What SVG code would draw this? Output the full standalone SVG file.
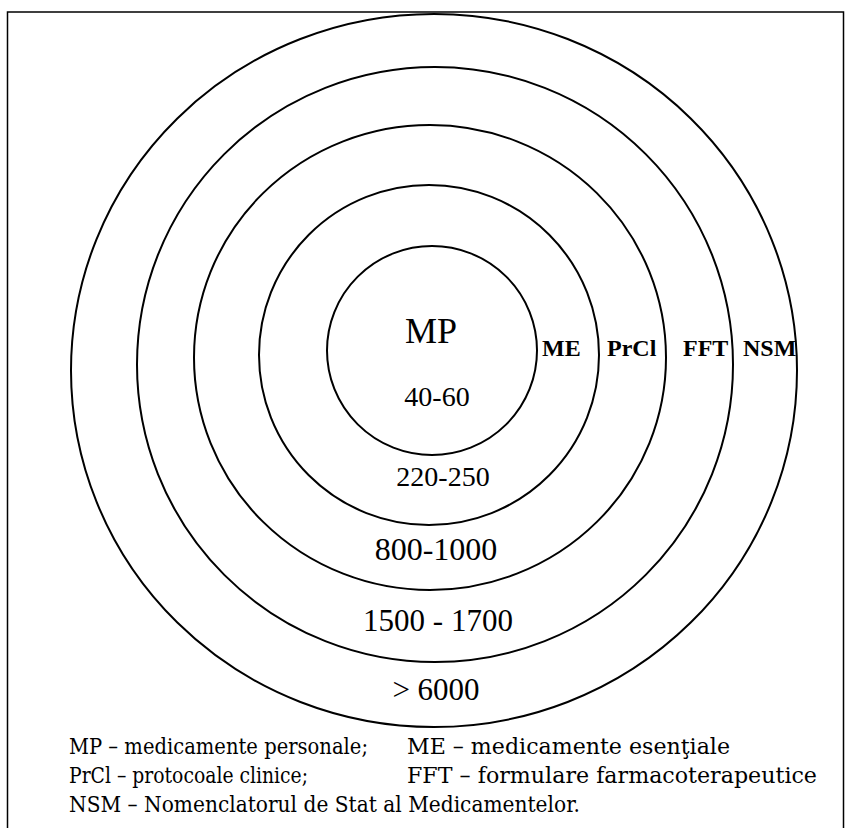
<svg xmlns="http://www.w3.org/2000/svg" width="853" height="828" viewBox="0 0 853 828">
<style>
.ring{fill:none;stroke:#000;stroke-width:2}
.num{font-family:"Liberation Serif","Times New Roman",serif;fill:#000;text-anchor:middle}
.lab{font-family:"Liberation Serif","Times New Roman",serif;font-weight:bold;font-size:24px;fill:#000}
.leg{font-family:"DejaVu Serif","Liberation Serif",serif;font-size:22.5px;fill:#000}
</style>
<rect x="7.5" y="12" width="836" height="830" fill="#fff" stroke="#000" stroke-width="1.5"/>
<g id="ring-nsm"><ellipse class="ring" cx="434" cy="370.5" rx="363" ry="356.5"/></g>
<g id="ring-fft"><ellipse class="ring" cx="435" cy="364.5" rx="298" ry="297.5"/></g>
<g id="ring-prcl"><ellipse class="ring" cx="430" cy="357.5" rx="236" ry="232.5"/></g>
<g id="ring-me"><ellipse class="ring" cx="429" cy="355" rx="170" ry="170"/></g>
<g id="ring-mp"><ellipse class="ring" cx="432" cy="350.5" rx="105" ry="104.5"/></g>
<g id="labels">
<text class="num" x="431" y="343" font-size="36">MP</text>
<text class="num" x="437" y="406" font-size="28">40-60</text>
<text class="num" x="443" y="486" font-size="28">220-250</text>
<text class="num" x="436" y="560" font-size="32">800-1000</text>
<text class="num" x="438" y="631" font-size="31">1500 - 1700</text>
<text class="num" x="436" y="700" font-size="31">&gt; 6000</text>
<text class="lab" x="542" y="356">ME</text>
<text class="lab" x="607" y="356">PrCl</text>
<text class="lab" x="683" y="356">FFT</text>
<text class="lab" x="743" y="356">NSM</text>
</g>
<g id="legend">
<text class="leg" x="69" y="754" textLength="299" lengthAdjust="spacingAndGlyphs">MP – medicamente personale;</text>
<text class="leg" x="407" y="754" textLength="323" lengthAdjust="spacingAndGlyphs">ME – medicamente esenţiale</text>
<text class="leg" x="69" y="783" textLength="239" lengthAdjust="spacingAndGlyphs">PrCl – protocoale clinice;</text>
<text class="leg" x="407" y="783" textLength="410" lengthAdjust="spacingAndGlyphs">FFT – formulare farmacoterapeutice</text>
<text class="leg" x="69" y="812" textLength="511" lengthAdjust="spacingAndGlyphs">NSM – Nomenclatorul de Stat al Medicamentelor.</text>
</g>
</svg>
